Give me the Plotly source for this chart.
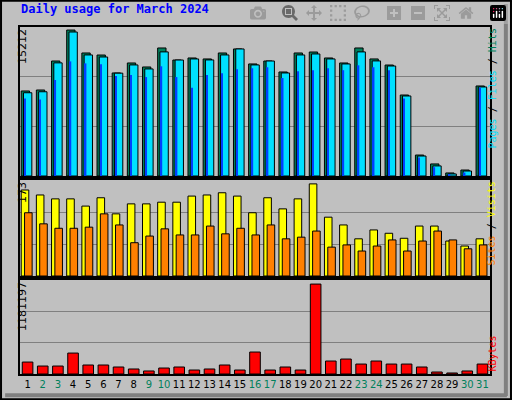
import plotly.graph_objects as go

days = list(range(1, 32))
hits = [8680, 8780, 11740, 14900, 12560, 12350, 10520, 11540, 11130, 13070, 11840, 12050, 11950, 12560, 12970, 11440, 11740, 10620, 12560, 12660, 12050, 11540, 13070, 11950, 11330, 8270, 2140, 1230, 310, 610, 9190]
files = [8500, 8600, 11550, 14700, 12360, 12150, 10500, 11340, 10930, 12670, 11840, 11950, 11850, 12360, 12970, 11340, 11740, 10520, 12360, 12460, 11950, 11440, 12670, 11750, 11230, 8170, 2040, 1030, 210, 510, 9090]
pages = [7900, 7800, 9800, 11700, 11500, 11400, 10200, 10300, 10100, 11200, 10100, 9000, 10300, 10500, 10900, 11000, 11100, 10000, 10700, 10800, 11000, 10800, 11300, 11100, 10800, 7900, 1900, 900, 150, 350, 9000]
visits = [155, 146, 139, 139, 126, 141, 112, 130, 130, 133, 133, 144, 146, 150, 144, 114, 141, 121, 139, 166, 106, 92, 67, 83, 77, 68, 90, 90, 63, 54, 67]
sites = [114, 94, 86, 86, 88, 112, 92, 60, 72, 85, 74, 74, 90, 76, 86, 74, 92, 67, 70, 81, 52, 56, 45, 54, 65, 45, 63, 81, 65, 49, 56]
kbytes = [150000, 100000, 100000, 263000, 113000, 113000, 88000, 63000, 38000, 75000, 88000, 50000, 63000, 113000, 50000, 276000, 50000, 88000, 50000, 1130000, 163000, 188000, 125000, 163000, 125000, 125000, 88000, 25000, 13000, 38000, 125000]
weekend = {2, 3, 9, 10, 16, 17, 23, 24, 30, 31}

fig = go.Figure()
line = dict(color="black", width=1)
fig.add_bar(x=days, y=hits, width=0.55, offset=-0.42, marker=dict(color="#00805C", line=line), xaxis="x", yaxis="y")
fig.add_bar(x=days, y=files, width=0.55, offset=-0.27, marker=dict(color="#00E0FF", line=line), xaxis="x", yaxis="y")
fig.add_bar(x=days, y=pages, width=0.1, offset=-0.22, marker=dict(color="#0040FF", line=dict(width=0)), xaxis="x", yaxis="y")
fig.add_bar(x=days, y=visits, width=0.5, offset=-0.42, marker=dict(color="#FFFF00", line=line), xaxis="x2", yaxis="y2")
fig.add_bar(x=days, y=sites, width=0.5, offset=-0.2, marker=dict(color="#FF8000", line=line), xaxis="x2", yaxis="y2")
fig.add_bar(x=days, y=kbytes, width=0.7, offset=-0.35, marker=dict(color="#FF0000", line=line), xaxis="x3", yaxis="y3")

xd = [20/512, 490/512]
ax = dict(range=[0.5, 31.5], showgrid=False, zeroline=False, showline=True, linecolor="black", linewidth=2, mirror=True, fixedrange=True)
ticktext = [f"<span style='color:{'#00805C' if d in weekend else 'black'}'>{d}</span>" for d in days]
yax = dict(showticklabels=False, gridcolor="#808080", zeroline=False, showline=True, linecolor="black", linewidth=2, mirror=True)
fig.update_layout(
    width=512, height=400, margin=dict(l=0, r=0, t=0, b=0),
    paper_bgcolor="#C0C0C0", plot_bgcolor="#C0C0C0", showlegend=False, barmode="overlay",
    xaxis=dict(ax, domain=xd, anchor="y", showticklabels=False, ticks=""),
    xaxis2=dict(ax, domain=xd, anchor="y2", showticklabels=False, ticks=""),
    xaxis3=dict(ax, domain=xd, anchor="y3", tickmode="array", tickvals=days, ticktext=ticktext,
                tickangle=0, tickfont=dict(family="DejaVu Sans", size=10), ticks=""),
    yaxis=dict(yax, domain=[0.56, 0.9325], range=[0, 15212], dtick=15212/3),
    yaxis2=dict(yax, domain=[0.31, 0.55], range=[0, 173], dtick=173/3),
    yaxis3=dict(yax, domain=[0.065, 0.30], range=[0, 1181197], dtick=1181197/3),
    font=dict(family="DejaVu Sans"),
)
fig.add_shape(type="rect", xref="paper", yref="paper", x0=0.002, y0=0.002, x1=0.998, y1=0.998, line=dict(color="black", width=2))
fig.add_shape(type="line", xref="paper", yref="paper", x0=0.988, y0=0.01, x1=0.988, y1=0.99, line=dict(color="#808080", width=4))
fig.add_shape(type="line", xref="paper", yref="paper", x0=0.01, y0=0.012, x1=0.99, y1=0.012, line=dict(color="#808080", width=4))
ann = [
    dict(x=19/512, y=1-9/400, text="<b>Daily usage for March 2024</b>", xanchor="left", yanchor="middle", font=dict(family="DejaVu Sans Mono", size=12, color="#0000FF")),
    dict(x=14/512, y=1-27/400, text="15212", textangle=-90, yanchor="top", font=dict(size=11, color="black")),
    dict(x=14/512, y=1-180/400, text="173", textangle=-90, yanchor="top", font=dict(size=11, color="black")),
    dict(x=14/512, y=1-280/400, text="1181197", textangle=-90, yanchor="top", font=dict(size=11, color="black")),
    dict(x=499/512, y=1-27/400, textangle=-90, yanchor="top",
         text="<span style='color:#00E0FF'>Pages</span> / <span style='color:#00E0FF'>Files</span> / <span style='color:#00805C'>Hits</span>",
         font=dict(family="DejaVu Sans Mono", size=10, color="black")),
    dict(x=499/512, y=1-180/400, textangle=-90, yanchor="top",
         text="<span style='color:#FF8000'>Sites</span> / <span style='color:#FFFF00'>Visits</span>",
         font=dict(family="DejaVu Sans Mono", size=10, color="black")),
    dict(x=499/512, y=1-374/400, textangle=-90, yanchor="bottom", text="KBytes",
         font=dict(family="DejaVu Sans Mono", size=10, color="#FF0000")),
]
for a in ann:
    a.update(xref="paper", yref="paper", showarrow=False)
    fig.add_annotation(**a)
fig.write_html("out.html", post_script="document.body.style.margin='0';document.body.style.overflow='hidden';")
